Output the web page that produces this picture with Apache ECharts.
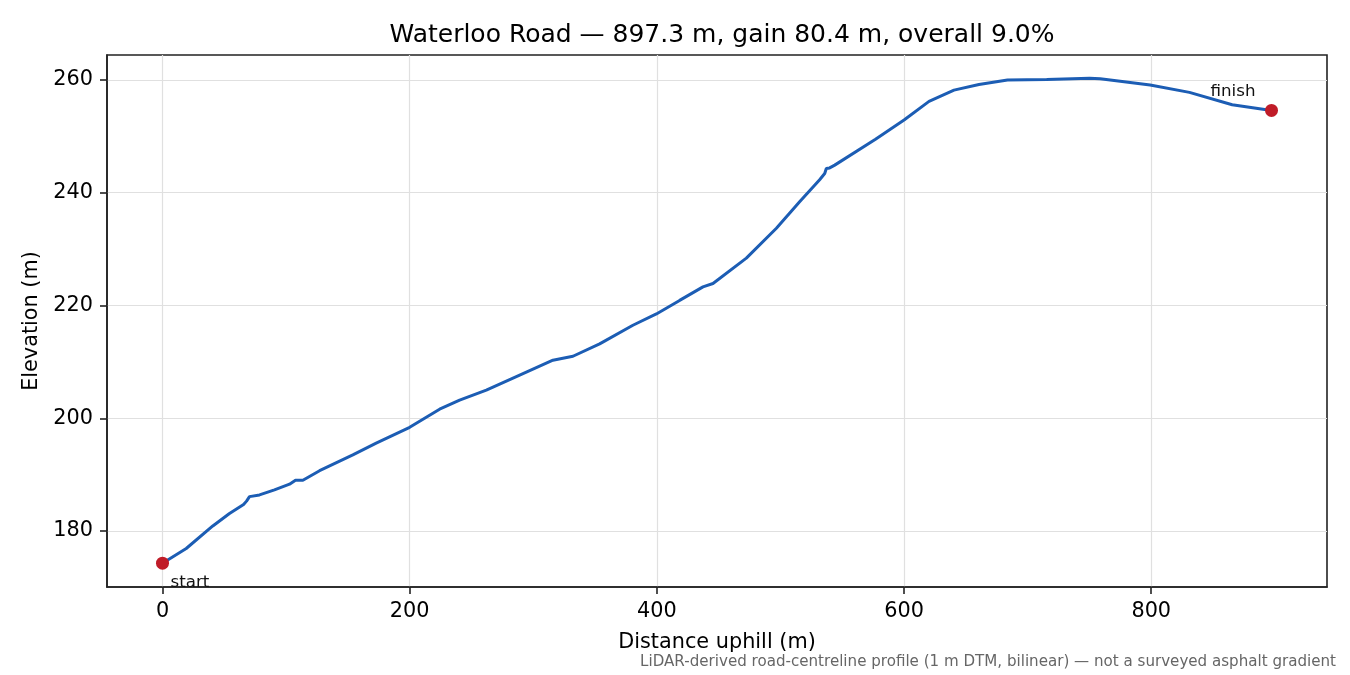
<!DOCTYPE html>
<html>
<head>
<meta charset="utf-8">
<script src="https://cdn.jsdelivr.net/npm/echarts@6/dist/echarts.min.js"></script>
<style>
html, body { margin: 0; padding: 0; background: #fff; }
#chart { width: 1350px; height: 675px; }
</style>
</head>
<body>
<div id="chart"></div>
<script>
// profile: distance uphill (m) and elevation (m)
var distance = [0, 19.2, 40.7, 54.2, 65.6, 68, 70.4, 78.5, 90.6, 102.8, 107.6, 113.6, 127.1, 154, 172.9,
    200, 224.2, 240.4, 262, 286.3, 315.9, 332.1, 353.7, 380.6, 399.6, 418.4, 437.3, 445.4, 472.4,
    496.7, 515.5, 531.7, 535.8, 537.1, 539.8, 543.9, 576.9, 600, 620.2, 640.4, 660.6, 683.7,
    715.4, 750.1, 758.7, 799.1, 830.9, 865.5, 897.3];
var elevation = [174.3, 176.9, 180.9, 183.1, 184.7, 185.3, 186.1, 186.4, 187.3, 188.3, 189.0, 189.0, 190.7, 193.5, 195.6,
    198.4, 201.6, 203.2, 205.0, 207.4, 210.3, 211.0, 213.2, 216.5, 218.5, 220.9, 223.3, 223.9, 228.4,
    233.7, 238.4, 242.3, 243.4, 244.3, 244.4, 244.9, 249.5, 252.9, 256.2, 258.2, 259.2, 260.0,
    260.1, 260.3, 260.2, 259.1, 257.8, 255.6, 254.6];
var xTicks = [0, 200, 400, 600, 800];
var yTicks = [180, 200, 220, 240, 260];
var endLabels = ['start', 'finish'];

var titleText = 'Waterloo Road \u2014 897.3 m, gain 80.4 m, overall 9.0%';
var noteText = 'LiDAR-derived road-centreline profile (1 m DTM, bilinear) \u2014 not a surveyed asphalt gradient';

var profile = [];
for (var i = 0; i < distance.length; i++) {
    profile.push([distance[i], elevation[i]]);
}
var last = distance.length - 1;
var ends = [
    {
        value: [distance[0], elevation[0]],
        label: { show: true, formatter: endLabels[0], position: 'inside', align: 'left', verticalAlign: 'middle', offset: [8, 20] }
    },
    {
        value: [distance[last], elevation[last]],
        label: { show: true, formatter: endLabels[1], position: 'inside', align: 'right', verticalAlign: 'middle', offset: [-16, -19] }
    }
];

var font = 'DejaVu Sans';
var chart = echarts.init(document.getElementById('chart'));
chart.setOption({
    animation: false,
    backgroundColor: '#fff',
    textStyle: { fontFamily: font },
    title: {
        text: titleText,
        left: 717,
        top: 18,
        textAlign: 'center',
        textStyle: { fontFamily: font, fontSize: 25, fontWeight: 'normal', color: '#000' }
    },
    graphic: [{
        type: 'text',
        right: 14,
        top: 655,
        style: { text: noteText, fontFamily: font, fontSize: 15.1, fill: '#666' }
    }],
    grid: {
        left: 107, right: 23, top: 55, bottom: 88,
        show: true, borderColor: '#222', borderWidth: 1.6, backgroundColor: 'transparent'
    },
    xAxis: {
        type: 'value',
        min: -44.9,
        max: 942.2,
        name: 'Distance uphill (m)',
        nameLocation: 'middle',
        nameGap: 45,
        nameTextStyle: { fontFamily: font, fontSize: 20.8, color: '#000' },
        axisLine: { show: true, onZero: false, lineStyle: { color: '#222', width: 1.6 } },
        axisTick: { show: true, customValues: xTicks, length: 7, lineStyle: { color: '#222', width: 1.6 } },
        axisLabel: { customValues: xTicks, margin: 14, fontFamily: font, fontSize: 20.8, color: '#000' },
        splitLine: { show: true, lineStyle: { color: '#e0e0e0', width: 1.2 } }
    },
    yAxis: {
        type: 'value',
        min: 170.07,
        max: 264.43,
        name: 'Elevation (m)',
        nameLocation: 'middle',
        nameGap: 59,
        nameTextStyle: { fontFamily: font, fontSize: 20.8, color: '#000' },
        axisLine: { show: true, onZero: false, lineStyle: { color: '#222', width: 1.6 } },
        axisTick: { show: true, customValues: yTicks, length: 7, lineStyle: { color: '#222', width: 1.6 } },
        axisLabel: { customValues: yTicks, margin: 14, fontFamily: font, fontSize: 20.8, color: '#000' },
        splitLine: { show: true, lineStyle: { color: '#e0e0e0', width: 1.2 } }
    },
    series: [
        {
            type: 'line',
            data: profile,
            showSymbol: false,
            lineStyle: { color: '#1c5db4', width: 3 },
            itemStyle: { color: '#1c5db4' },
            z: 2
        },
        {
            type: 'scatter',
            data: ends,
            symbolSize: 13,
            itemStyle: { color: '#c01c28', opacity: 1 },
            label: { fontFamily: font, fontSize: 16.7, color: '#111' },
            z: 3
        }
    ]
});
</script>
</body>
</html>
